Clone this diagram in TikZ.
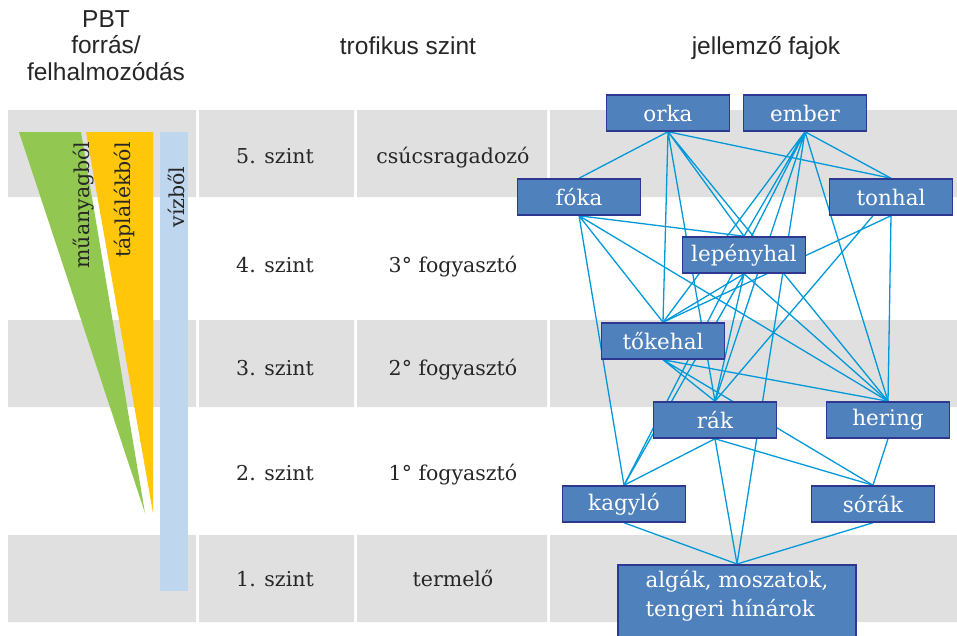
\documentclass[tikz,border=0pt]{standalone}
\usepackage{fontspec}
\setmainfont{DejaVu Serif}
\newfontfamily\headfont{Liberation Sans}
\usepackage{tikz}
\usetikzlibrary{backgrounds}
\usepackage{xcolor}
\definecolor{cellgrey}{RGB}{224,224,224}
\definecolor{boxfill}{RGB}{79,129,189}
\definecolor{boxline}{RGB}{47,56,145}
\definecolor{linkblue}{RGB}{0,153,218}
\definecolor{barGreen}{RGB}{146,200,82}
\definecolor{barYellow}{RGB}{255,198,10}
\definecolor{barBlue}{RGB}{190,214,238}
\definecolor{txt}{RGB}{38,38,38}
\tikzstyle{species} = [rectangle, draw=boxline, line width=1.5pt, fill=boxfill, text=white, minimum width=123pt, minimum height=36pt, inner sep=0pt, font=\fontsize{21.5}{29}\selectfont]
\tikzstyle{link} = [draw=linkblue, line width=1.3pt]
\tikzstyle{cell} = [fill=cellgrey]
\tikzstyle{rowtext} = [anchor=base, text=txt, font=\fontsize{20.5}{24}\selectfont]
\tikzstyle{head} = [text=txt, inner sep=0pt, font=\headfont\fontsize{24.5}{26.5}\selectfont]
\tikzstyle{bartext} = [rotate=90, text=txt, inner sep=0pt, font=\fontsize{20.5}{24}\selectfont]

\begin{document}
\begin{tikzpicture}[x=1pt, y=-1pt]
	\useasboundingbox (0,0) rectangle (957,635);
	\clip (0,0) rectangle (957,635);
	%Grey rows
	\begin{scope}[on background layer]
		\fill[cell] (8,110) rectangle (196,197) (199,110) rectangle (354,197) (357,110) rectangle (547,197) (550,110) rectangle (957,197);
		\fill[cell] (8,320) rectangle (196,407) (199,320) rectangle (354,407) (357,320) rectangle (547,407) (550,320) rectangle (957,407);
		\fill[cell] (8,535) rectangle (196,622) (199,535) rectangle (354,622) (357,535) rectangle (547,622) (550,535) rectangle (957,622);
	\end{scope}
	%Headers
	\node[head, align=center, anchor=north] (pbt) at (106,10) {PBT\\forrás/\\felhalmozódás};
	\node[head, anchor=base] (trophead) at (408,54) {trofikus szint};
	\node[head, anchor=base] (fajhead) at (766,54) {jellemző fajok};
	%PBT bars
	\fill[barGreen] (19,132) -- (81,132) -- (145,513) -- cycle;
	\fill[barYellow] (86,132) -- (153,132) -- (153,513) -- cycle;
	\fill[barBlue] (160,132) rectangle (188,591);
	\node[bartext] (muanyag) at (84,205) {műanyagból};
	\node[bartext] (taplalek) at (124,200) {táplálékból};
	\node[bartext] (viz) at (176,197) {vízből};
	%Levels
	\node[rowtext] (lvl5) at (275,163) {5. szint};
	\node[rowtext] (lvl4) at (275,272) {4. szint};
	\node[rowtext] (lvl3) at (275,375) {3. szint};
	\node[rowtext] (lvl2) at (275,480) {2. szint};
	\node[rowtext] (lvl1) at (275,586) {1. szint};
	\node[rowtext] (troph5) at (453,163) {csúcsragadozó};
	\node[rowtext] (troph4) at (453,272) {3° fogyasztó};
	\node[rowtext] (troph3) at (453,375) {2° fogyasztó};
	\node[rowtext] (troph2) at (453,480) {1° fogyasztó};
	\node[rowtext] (troph1) at (453,586) {termelő};
	%Species
	\node[species] (orka) at (668,113) {orka};
	\node[species] (ember) at (805,113) {ember};
	\node[species] (foka) at (579,197) {fóka};
	\node[species] (tonhal) at (891,197) {tonhal};
	\node[species] (lepeny) at (744,255) {lepényhal};
	\node[species] (tokehal) at (663,341) {tőkehal};
	\node[species] (rak) at (715,420) {rák};
	\node[species] (hering) at (888,420) {hering};
	\node[species] (kagylo) at (624,504) {kagyló};
	\node[species] (sorak) at (873,504) {sórák};
	\node[species, minimum width=238pt, align=left, anchor=north, inner ysep=6pt, text depth=60pt] (algak) at (737,564) {algák, moszatok,\\tengeri hínárok};
	%Food web links
	\begin{scope}[on background layer]
		%orka
		\draw[link] (orka.south) -- (foka.north) (orka.south) -- (tonhal.north) (orka.south) -- (tokehal.north)
			(orka.south) -- (rak.north) (orka.south) -- (lepeny.north) (orka.south) -- (hering.north);
		%ember
		\draw[link] (ember.south) -- (tonhal.north) (ember.south) -- (tokehal.north) (ember.south) -- (lepeny.north)
			(ember.south) -- (kagylo.north) (ember.south) -- (rak.north) (ember.south) -- (algak.north) (ember.south) -- (hering.north);
		%foka
		\draw[link] (foka.south) -- (lepeny.north) (foka.south) -- (tokehal.north) (foka.south) -- (kagylo.north) (foka.south) -- (hering.north);
		%tonhal
		\draw[link] (tonhal.south) -- (tokehal.north) ([xshift=-18pt]tonhal.south) -- (rak.north) (tonhal.south) -- (hering.north);
		%lepenyhal
		\draw[link] (lepeny.south) -- (tokehal.north) (lepeny.south) -- (rak.north) (lepeny.south) -- (kagylo.north) (lepeny.south) -- (hering.north);
		%tokehal
		\draw[link] (tokehal.south) -- (rak.north) (tokehal.south) -- (hering.north) (tokehal.south) -- (sorak.north);
		%rak, hering
		\draw[link] (rak.south) -- (kagylo.north) (rak.south) -- (sorak.north) (rak.south) -- (algak.north);
		\draw[link] (hering.south) -- (sorak.north);
		%kagylo, sorak
		\draw[link] (kagylo.south) -- (algak.north) (sorak.south) -- (algak.north);
	\end{scope}
\end{tikzpicture}
\end{document}
